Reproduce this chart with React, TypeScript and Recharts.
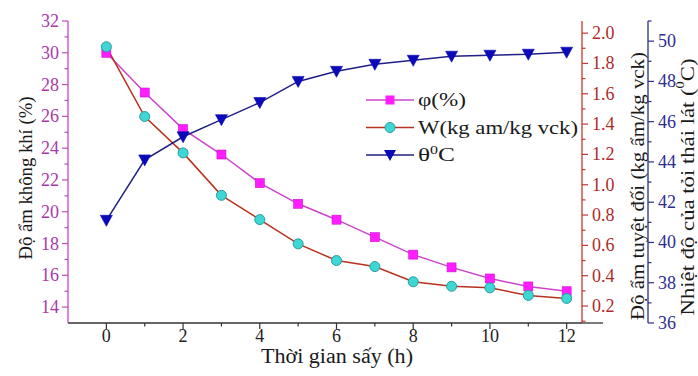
import React from 'react';
import { LineChart, Line, XAxis, YAxis, Legend, Label, ReferenceLine } from 'recharts';

const hours = [0, 1, 2, 3, 4, 5, 6, 7, 8, 9, 10, 11, 12];
const humidityPct = [30.0, 27.5, 25.2, 23.6, 21.8, 20.5, 19.5, 18.4, 17.3, 16.5, 15.8, 15.3, 15.0];
const moistureKg = [1.91, 1.45, 1.21, 0.93, 0.77, 0.61, 0.5, 0.46, 0.36, 0.33, 0.32, 0.27, 0.25];
const garlicTemp = [41.1, 44.1, 45.25, 46.1, 46.95, 48.0, 48.5, 48.85, 49.05, 49.25, 49.3, 49.35, 49.45];

const xTicks = [0, 1, 2, 3, 4, 5, 6, 7, 8, 9, 10, 11, 12];
const humidityTicks = [14, 15, 16, 17, 18, 19, 20, 21, 22, 23, 24, 25, 26, 27, 28, 29, 30, 31, 32];
const moistureTicks = [0.1, 0.2, 0.3, 0.4, 0.5, 0.6, 0.7, 0.8, 0.9, 1.0, 1.1, 1.2, 1.3, 1.4, 1.5, 1.6, 1.7, 1.8, 1.9, 2.0];
const tempTicks = [36, 37, 38, 39, 40, 41, 42, 43, 44, 45, 46, 47, 48, 49, 50, 51];

const rows = hours.map((h, i) => ({
    h,
    phi: humidityPct[i],
    w: moistureKg[i],
    t: garlicTemp[i],
}));

const FONT = '"Liberation Serif", "Times New Roman", serif';

const PHI_LINE = '#cc44cc';
const PHI_FILL = '#ff1cff';
const W_LINE = '#b8321e';
const W_FILL = '#3fd6d6';
const T_LINE = '#1f1f85';
const T_FILL = '#0a0ab8';

const LEFT_AXIS = '#c248c2';
const LEFT_TEXT = '#a83aa8';
const RED_AXIS = '#c23a30';
const RED_TEXT = '#b02a2a';
const BLUE_AXIS = '#2c2c8c';
const BLUE_TEXT = '#2e2e90';

const TICK_FONT = 18;

// ---- tick renderers (tickSize 0 so x/y sit on the axis line) ----
const XTick = (props: any) => {
    const { x, y, payload } = props;
    const major = payload.value % 2 === 0;
    return (
        <g>
            <line x1={x} y1={y} x2={x} y2={y + (major ? 6 : 3.5)} stroke="#333" strokeWidth={1.2} />
            {major && (
                <text x={x} y={y + 19} textAnchor="middle" fontSize={TICK_FONT} fontFamily={FONT} fill="#222">
                    {payload.value}
                </text>
            )}
        </g>
    );
};

const LeftTick = (props: any) => {
    const { x, y, payload } = props;
    const major = payload.value % 2 === 0;
    return (
        <g>
            <line x1={x} y1={y} x2={x - (major ? 6 : 3.5)} y2={y} stroke={LEFT_AXIS} strokeWidth={1.2} />
            {major && (
                <text x={x - 9} y={y + 6} textAnchor="end" fontSize={TICK_FONT} fontFamily={FONT} fill={LEFT_TEXT}>
                    {payload.value}
                </text>
            )}
        </g>
    );
};

const makeRightTick = (color: string, textColor: string, isMajor: (v: number) => boolean, fmt: (v: number) => string) =>
    (props: any) => {
        const { x, y, payload } = props;
        const major = isMajor(payload.value);
        return (
            <g>
                <line x1={x} y1={y} x2={x + (major ? 6 : 3.5)} y2={y} stroke={color} strokeWidth={1.2} />
                {major && (
                    <text x={x + 10} y={y + 6} textAnchor="start" fontSize={TICK_FONT} fontFamily={FONT} fill={textColor}>
                        {fmt(payload.value)}
                    </text>
                )}
            </g>
        );
    };

const MoistureTick = makeRightTick(RED_AXIS, RED_TEXT, v => Math.round(v * 10) % 2 === 0, v => v.toFixed(1));
const TempTick = makeRightTick(BLUE_AXIS, BLUE_TEXT, v => v % 2 === 0, v => String(v));

// ---- markers ----
const SquareDot = (props: any) => {
    const { cx, cy, index } = props;
    return <rect key={`sq-${index}`} x={cx - 4.5} y={cy - 4.5} width={9} height={9} fill={PHI_FILL} stroke="#d010d0" strokeWidth={0.6} />;
};

const CircleDot = (props: any) => {
    const { cx, cy, index } = props;
    return <circle key={`ci-${index}`} cx={cx} cy={cy} r={5} fill={W_FILL} stroke="#2a9c9c" strokeWidth={1} />;
};

const TriangleDot = (props: any) => {
    const { cx, cy, index } = props;
    return (
        <polygon
            key={`tr-${index}`}
            points={`${cx - 6},${cy - 5} ${cx + 6},${cy - 5} ${cx},${cy + 6}`}
            fill={T_FILL}
            stroke={T_FILL}
            strokeWidth={0.6}
        />
    );
};

// ---- axis titles ----
const AxisTitle = ({ px, py, text, rotate, sup, size = 19, len }: any) => (
    <text
        x={px}
        y={py}
        transform={rotate ? `rotate(-90 ${px} ${py})` : undefined}
        textAnchor="middle"
        dominantBaseline="central"
        fontSize={size}
        fontFamily={FONT}
        fill="#1a1a1a"
        textLength={len}
        lengthAdjust="spacingAndGlyphs"
    >
        {text}
        {sup && (
            <>
                <tspan fontSize={12} dy={-7}>0</tspan>
                <tspan dy={7}>{sup}</tspan>
            </>
        )}
    </text>
);

// ---- legend ----
const legendItems = [
    { key: 'phi', line: PHI_LINE, dot: 'square', len: 48 },
    { key: 'w', line: W_LINE, dot: 'circle', len: 160 },
    { key: 't', line: T_LINE, dot: 'triangle', len: 37 },
];

const LegendMarker = ({ dot, cy }: { dot: string; cy: number }) => {
    if (dot === 'square') return <rect x={21.5} y={cy - 4.5} width={9} height={9} fill={PHI_FILL} />;
    if (dot === 'circle') return <circle cx={26} cy={cy} r={5} fill={W_FILL} stroke="#2a9c9c" />;
    return <polygon points={`20,${cy - 5} 32,${cy - 5} 26,${cy + 6}`} fill={T_FILL} />;
};

const ChartLegend = () => (
    <svg width={230} height={80}>
        {legendItems.map((item, i) => {
            const cy = 13 + i * 27.5;
            return (
                <g key={item.key}>
                    <line x1={2} y1={cy} x2={50} y2={cy} stroke={item.line} strokeWidth={1.5} />
                    <LegendMarker dot={item.dot} cy={cy} />
                    <text
                        x={54}
                        y={cy + 6}
                        fontSize={19}
                        fontFamily={FONT}
                        fill="#1a1a1a"
                        textLength={item.len}
                        lengthAdjust="spacingAndGlyphs"
                    >
                        {item.key === 'phi' && 'φ(%)'}
                        {item.key === 'w' && 'W(kg am/kg vck)'}
                        {item.key === 't' && (
                            <>
                                θ<tspan fontSize={12} dy={-7}>0</tspan>
                                <tspan dy={7}>C</tspan>
                            </>
                        )}
                    </text>
                </g>
            );
        })}
    </svg>
);

export default function App() {
    return (
        <div style={{ position: 'absolute', left: 0, top: 0, width: 698, height: 376, background: '#fff' }}>
            <LineChart width={698} height={376} data={rows} margin={{ top: 21, right: 0, bottom: 0, left: 0 }}>
                <XAxis
                    dataKey="h"
                    type="number"
                    domain={[-1, 12.4]}
                    ticks={xTicks}
                    allowDataOverflow
                    height={53}
                    tickSize={0}
                    tickMargin={0}
                    tickLine={false}
                    tick={<XTick />}
                    interval={0}
                    axisLine={{ stroke: '#333', strokeWidth: 1.3 }}
                    label={<Label content={<AxisTitle px={337} py={356} size={20} len={152} text="Thời gian sấy (h)" />} />}
                />
                <YAxis
                    yAxisId="humid"
                    orientation="left"
                    width={68}
                    domain={[13, 32]}
                    ticks={humidityTicks}
                    allowDataOverflow
                    interval={0}
                    tickSize={0}
                    tickMargin={0}
                    tickLine={false}
                    tick={<LeftTick />}
                    axisLine={{ stroke: LEFT_AXIS, strokeWidth: 1.3 }}
                    label={<Label content={<AxisTitle px={25} py={178} rotate len={163} text="Độ ẩm không khí (%)" />} />}
                />
                <YAxis
                    yAxisId="moist"
                    orientation="right"
                    width={66}
                    domain={[0.088, 2.08]}
                    ticks={moistureTicks}
                    allowDataOverflow
                    interval={0}
                    tickSize={0}
                    tickMargin={0}
                    tickLine={false}
                    tick={<MoistureTick />}
                    axisLine={{ stroke: RED_AXIS, strokeWidth: 1.3 }}
                    label={<Label content={<AxisTitle px={637} py={186} rotate len={268} text="Độ ẩm tuyệt đối (kg ẩm/kg vck)" />} />}
                />
                <YAxis
                    yAxisId="temp"
                    orientation="right"
                    width={50}
                    domain={[36, 51]}
                    ticks={tempTicks}
                    allowDataOverflow
                    interval={0}
                    tickSize={0}
                    tickMargin={0}
                    tickLine={false}
                    tick={<TempTick />}
                    axisLine={{ stroke: BLUE_AXIS, strokeWidth: 1.3 }}
                    label={<Label content={<AxisTitle px={687} py={187} rotate len={257} text="Nhiệt độ của tỏi thái lát (" sup="C)" />} />}
                />
                <ReferenceLine
                    yAxisId="humid"
                    segment={[{ x: 12.4, y: 13 }, { x: 12.95, y: 13 }]}
                    ifOverflow="visible"
                    stroke="#333"
                    strokeWidth={1.3}
                />
                <Line yAxisId="humid" dataKey="phi" stroke={PHI_LINE} strokeWidth={1.5} dot={SquareDot} isAnimationActive={false} />
                <Line yAxisId="moist" dataKey="w" stroke={W_LINE} strokeWidth={1.5} dot={CircleDot} isAnimationActive={false} />
                <Line yAxisId="temp" dataKey="t" stroke={T_LINE} strokeWidth={1.5} dot={TriangleDot} isAnimationActive={false} />
                <Legend
                    layout="vertical"
                    align="center"
                    verticalAlign="middle"
                    content={<ChartLegend />}
                    wrapperStyle={{ position: 'absolute', left: 364, top: 87, width: 230 }}
                />
            </LineChart>
        </div>
    );
}
